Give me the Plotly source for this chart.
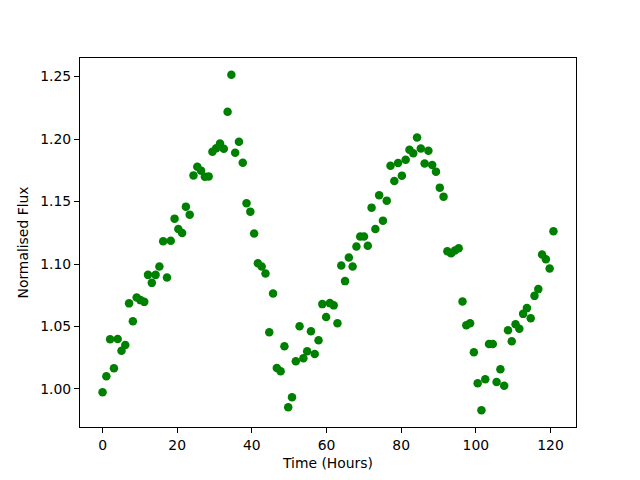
import plotly.graph_objects as go

time_hours = [
    0.00, 1.02, 2.03, 3.05, 4.06, 5.08, 6.09, 7.11, 8.12, 9.14,
    10.15, 11.17, 12.18, 13.20, 14.21, 15.23, 16.24, 17.26, 18.27, 19.29,
    20.30, 21.32, 22.33, 23.35, 24.36, 25.38, 26.39, 27.41, 28.42, 29.44,
    30.45, 31.47, 32.48, 33.50, 34.51, 35.53, 36.54, 37.56, 38.57, 39.59,
    40.60, 41.62, 42.63, 43.65, 44.66, 45.68, 46.69, 47.71, 48.72, 49.74,
    50.75, 51.77, 52.78, 53.80, 54.81, 55.83, 56.84, 57.86, 58.87, 59.89,
    60.90, 61.92, 62.93, 63.95, 64.96, 65.98, 66.99, 68.01, 69.02, 70.04,
    71.05, 72.07, 73.08, 74.10, 75.11, 76.13, 77.14, 78.16, 79.17, 80.19,
    81.20, 82.22, 83.23, 84.25, 85.26, 86.28, 87.29, 88.31, 89.32, 90.34,
    91.35, 92.37, 93.38, 94.40, 95.41, 96.43, 97.44, 98.46, 99.47, 100.49,
    101.50, 102.52, 103.53, 104.55, 105.56, 106.58, 107.59, 108.61, 109.62, 110.64,
    111.65, 112.67, 113.68, 114.70, 115.71, 116.73, 117.74, 118.76, 119.77, 120.79,
]

normalised_flux = [
    0.9974, 1.0101, 1.0397, 1.0165, 1.0399, 1.0306, 1.0351, 1.0685, 1.0541, 1.0732,
    1.0711, 1.0697, 1.0913, 1.0849, 1.0913, 1.0980, 1.1182, 1.0892, 1.1186, 1.1363,
    1.1280, 1.1248, 1.1459, 1.1395, 1.1709, 1.1779, 1.1747, 1.1699, 1.1701, 1.1899,
    1.1927, 1.1965, 1.1923, 1.2218, 1.2514, 1.1891, 1.1978, 1.1811, 1.1486, 1.1419,
    1.1244, 1.1006, 1.0980, 1.0924, 1.0453, 1.0764, 1.0168, 1.0141, 1.0341, 0.9854,
    0.9934, 1.0221, 1.0501, 1.0245, 1.0301, 1.0461, 1.0280, 1.0389, 1.0679, 1.0575,
    1.0687, 1.0669, 1.0525, 1.0988, 1.0863, 1.1052, 1.0980, 1.1140, 1.1220, 1.1220,
    1.1146, 1.1451, 1.1280, 1.1550, 1.1347, 1.1507, 1.1787, 1.1664, 1.1808, 1.1707,
    1.1835, 1.1914, 1.1887, 1.2013, 1.1925, 1.1805, 1.1907, 1.1792, 1.1739, 1.1611,
    1.1539, 1.1102, 1.1086, 1.1108, 1.1126, 1.0700, 1.0509, 1.0525, 1.0293, 1.0046,
    0.9830, 1.0077, 1.0359, 1.0359, 1.0056, 1.0157, 1.0026, 1.0469, 1.0381, 1.0517,
    1.0482, 1.0601, 1.0647, 1.0565, 1.0745, 1.0799, 1.1076, 1.1038, 1.0964, 1.1262,
]

x_ticks = [0, 20, 40, 60, 80, 100, 120]
y_ticks = [1.00, 1.05, 1.10, 1.15, 1.20, 1.25]
y_tick_labels = ["1.00", "1.05", "1.10", "1.15", "1.20", "1.25"]

fig = go.Figure(
    go.Scatter(
        x=time_hours,
        y=normalised_flux,
        mode="markers",
        marker=dict(color="#008000", size=8.5, line=dict(width=0)),
        showlegend=False,
    )
)

xmin, xmax = min(time_hours), max(time_hours)
ymin, ymax = min(normalised_flux), max(normalised_flux)
xpad = 0.05 * (xmax - xmin)
ypad = 0.05 * (ymax - ymin)

axis_common = dict(
    showline=True, linecolor="black", linewidth=1, mirror=True,
    ticks="outside", ticklen=5, tickwidth=1, tickcolor="black",
    showgrid=False, zeroline=False,
    tickfont=dict(family="DejaVu Sans", size=13.9, color="black"),
)

fig.update_layout(
    width=640, height=480,
    margin=dict(l=72, r=72, t=50, b=61),
    paper_bgcolor="white", plot_bgcolor="white",
    font=dict(family="DejaVu Sans", size=13.9, color="black"),
    xaxis=dict(
        range=[xmin - xpad, xmax + xpad],
        tickvals=x_ticks,
        title=dict(text="Time (Hours)", standoff=6,
                   font=dict(family="DejaVu Sans", size=13.9, color="black")),
        **axis_common,
    ),
    yaxis=dict(
        range=[ymin - ypad, ymax + ypad],
        tickvals=y_ticks, ticktext=y_tick_labels,
        title=dict(text="Normalised Flux", standoff=8,
                   font=dict(family="DejaVu Sans", size=13.9, color="black")),
        **axis_common,
    ),
)

fig.write_html("out.html")
